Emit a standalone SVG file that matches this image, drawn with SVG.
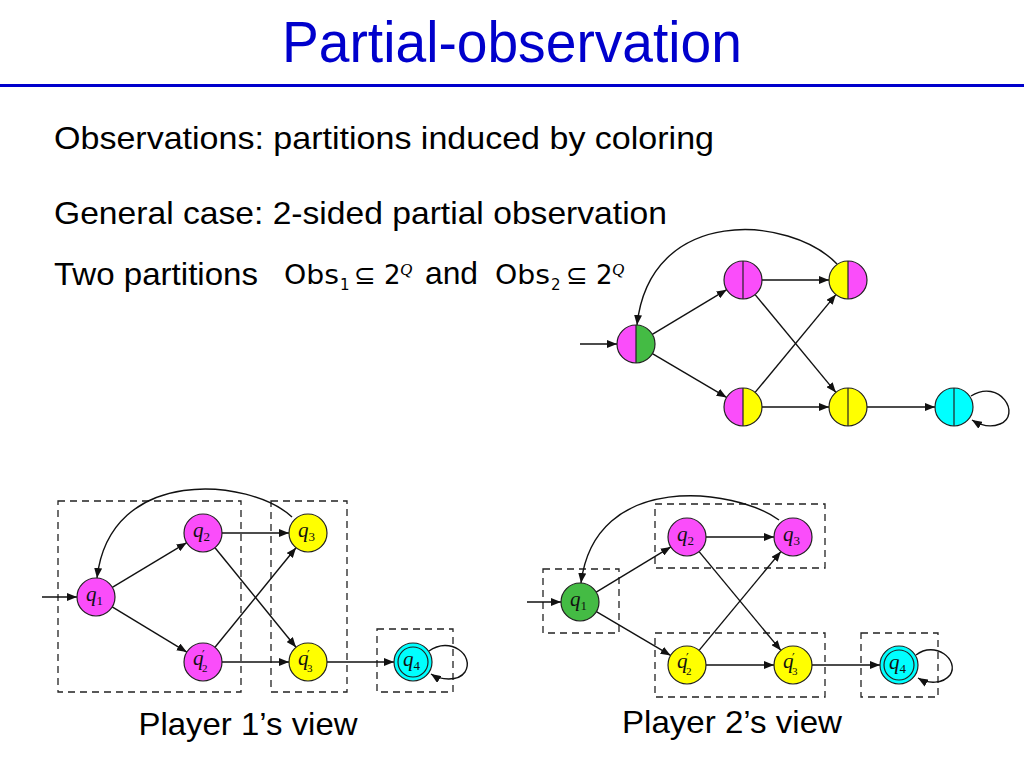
<svg xmlns="http://www.w3.org/2000/svg" width="1024" height="768" viewBox="0 0 1024 768">
<style>
.title{font-family:"Liberation Sans",Arial,sans-serif;font-size:58px;fill:#0000cc}
.body{font-family:"Liberation Sans",Arial,sans-serif;font-size:32px;fill:#000}
.math{font-family:"DejaVu Sans",sans-serif;fill:#000}
.edge{fill:none;stroke:#111;stroke-width:1.4}
.node{stroke:#222;stroke-width:1.2}
.box{fill:none;stroke:#222;stroke-width:1.3;stroke-dasharray:7 5}
.lbl{font-family:"Liberation Serif","DejaVu Serif",serif;font-style:italic;font-size:21px;fill:#111}
.sub{font-style:normal;font-size:13px}
.sb2{font-style:normal;font-size:11px}
.pr{font-style:normal;font-family:"DejaVu Sans",sans-serif;font-size:12px}
.mag{fill:#fa4dfa}.yel{fill:#ffff00}.grn{fill:#44bb44}.cyn{fill:#00ffff}
</style>
<defs>
<marker id="ah" viewBox="0 0 10 8" refX="10" refY="4" markerWidth="10" markerHeight="8" markerUnits="userSpaceOnUse" orient="auto"><path d="M0,0 L10,4 L0,8 z" fill="#111"/></marker>
</defs>

<g id="header">
<text class="title" x="512" y="62" text-anchor="middle" textLength="460" lengthAdjust="spacingAndGlyphs">Partial-observation</text>
<rect x="0" y="84" width="1024" height="3" fill="#0000cc"/>
</g>

<g id="text">
<text class="body" x="54" y="149" textLength="660" lengthAdjust="spacingAndGlyphs">Observations: partitions induced by coloring</text>
<text class="body" x="54" y="224" textLength="613" lengthAdjust="spacingAndGlyphs">General case: 2-sided partial observation</text>
<text class="body" x="54" y="285" textLength="204" lengthAdjust="spacingAndGlyphs">Two partitions</text>
<text class="math" x="284" y="284" style="font-size:26px" textLength="55" lengthAdjust="spacingAndGlyphs">Obs</text>
<text class="math" x="340" y="290" style="font-size:15px">1</text>
<text class="math" x="354" y="284" style="font-size:26px">⊆</text>
<text class="math" x="384" y="284" style="font-size:26px">2</text>
<text class="math" x="400" y="275" style="font-size:17px;font-style:italic;font-family:'Liberation Serif',serif">Q</text>
<text class="body" x="425" y="284" textLength="53" lengthAdjust="spacingAndGlyphs">and</text>
<text class="math" x="495" y="284" style="font-size:26px" textLength="55" lengthAdjust="spacingAndGlyphs">Obs</text>
<text class="math" x="551" y="290" style="font-size:15px">2</text>
<text class="math" x="566" y="284" style="font-size:26px">⊆</text>
<text class="math" x="596" y="284" style="font-size:26px">2</text>
<text class="math" x="612" y="275" style="font-size:17px;font-style:italic;font-family:'Liberation Serif',serif">Q</text>
<text class="body" x="248" y="735" text-anchor="middle" textLength="219" lengthAdjust="spacingAndGlyphs">Player 1’s view</text>
<text class="body" x="732" y="733" text-anchor="middle" textLength="220" lengthAdjust="spacingAndGlyphs">Player 2’s view</text>
</g>

<!-- Top-right graph -->
<g id="top-connectors">
<path class="edge" marker-end="url(#ah)" d="M580,344 L617,344"/>
<path class="edge" marker-end="url(#ah)" d="M652.3,334.3 L726.7,289.7"/>
<path class="edge" marker-end="url(#ah)" d="M652.4,353.6 L726.6,397.4"/>
<path class="edge" marker-end="url(#ah)" d="M762,280 L829,280"/>
<path class="edge" marker-end="url(#ah)" d="M755.1,294.6 L835.9,392.4"/>
<path class="edge" marker-end="url(#ah)" d="M755.1,392.4 L835.9,294.6"/>
<path class="edge" marker-end="url(#ah)" d="M762,407 L829,407"/>
<path class="edge" marker-end="url(#ah)" d="M867,407 L935,407"/>
<path class="edge" marker-end="url(#ah)" d="M837,264 C790,215 650,205 637,325"/>
<path class="edge" marker-end="url(#ah)" d="M971,396 C1000,378 1022,415 1000,424 C990,428 980,425 972,420"/>
</g>
<g id="tA"><path class="mag" d="M636,325 A19,19 0 0 0 636,363 Z"/><path class="grn" d="M636,325 A19,19 0 0 1 636,363 Z"/><circle class="node" cx="636" cy="344" r="19" fill="none"/><line class="node" x1="636" y1="325" x2="636" y2="363"/></g>
<g id="tB"><path class="mag" d="M743,261 A19,19 0 0 0 743,299 Z"/><path class="mag" d="M743,261 A19,19 0 0 1 743,299 Z"/><circle class="node" cx="743" cy="280" r="19" fill="none"/><line class="node" x1="743" y1="261" x2="743" y2="299"/></g>
<g id="tC"><path class="yel" d="M848,261 A19,19 0 0 0 848,299 Z"/><path class="mag" d="M848,261 A19,19 0 0 1 848,299 Z"/><circle class="node" cx="848" cy="280" r="19" fill="none"/><line class="node" x1="848" y1="261" x2="848" y2="299"/></g>
<g id="tD"><path class="mag" d="M743,388 A19,19 0 0 0 743,426 Z"/><path class="yel" d="M743,388 A19,19 0 0 1 743,426 Z"/><circle class="node" cx="743" cy="407" r="19" fill="none"/><line class="node" x1="743" y1="388" x2="743" y2="426"/></g>
<g id="tE"><path class="yel" d="M848,388 A19,19 0 0 0 848,426 Z"/><path class="yel" d="M848,388 A19,19 0 0 1 848,426 Z"/><circle class="node" cx="848" cy="407" r="19" fill="none"/><line class="node" x1="848" y1="388" x2="848" y2="426"/></g>
<g id="tF"><path class="cyn" d="M954,388 A19,19 0 0 0 954,426 Z"/><path class="cyn" d="M954,388 A19,19 0 0 1 954,426 Z"/><circle class="node" cx="954" cy="407" r="19" fill="none"/><line class="node" x1="954" y1="388" x2="954" y2="426"/></g>

<!-- Player 1 view -->
<g id="p1-boxes">
<rect class="box" x="58" y="501" width="183" height="191"/>
<rect class="box" x="271" y="501" width="76" height="191"/>
<rect class="box" x="377" y="629" width="76" height="63"/>
</g>
<g id="p1-connectors">
<path class="edge" marker-end="url(#ah)" d="M42,597 L77,597"/>
<path class="edge" marker-end="url(#ah)" d="M112.3,587.3 L186.7,542.7"/>
<path class="edge" marker-end="url(#ah)" d="M112.2,606.9 L186.8,652.1"/>
<path class="edge" marker-end="url(#ah)" d="M222,533 L289,533"/>
<path class="edge" marker-end="url(#ah)" d="M215,547.7 L296,647.3"/>
<path class="edge" marker-end="url(#ah)" d="M215,647.3 L296,547.7"/>
<path class="edge" marker-end="url(#ah)" d="M222,662 L289,662"/>
<path class="edge" marker-end="url(#ah)" d="M327,662 L394,662"/>
<path class="edge" marker-end="url(#ah)" d="M292,517 C250,478 110,465 97,578"/>
<path class="edge" marker-end="url(#ah)" d="M429,651 C450,636 475,655 465,672 C458,682 440,680 431,674"/>
</g>
<g id="p1-q1"><circle class="node mag" cx="96" cy="597" r="19"/><text class="lbl" x="86" y="601">q<tspan class="sub" dy="4">1</tspan></text></g>
<g id="p1-q2"><circle class="node mag" cx="203" cy="533" r="19"/><text class="lbl" x="193" y="537">q<tspan class="sub" dy="4">2</tspan></text></g>
<g id="p1-q3"><circle class="node yel" cx="308" cy="533" r="19"/><text class="lbl" x="298" y="537">q<tspan class="sub" dy="4">3</tspan></text></g>
<g id="p1-q2p"><circle class="node mag" cx="203" cy="662" r="19"/><text class="lbl" x="193" y="665">q</text><text class="lbl pr" x="202" y="659">′</text><text class="lbl sb2" x="202" y="672">2</text></g>
<g id="p1-q3p"><circle class="node yel" cx="308" cy="662" r="19"/><text class="lbl" x="298" y="665">q</text><text class="lbl pr" x="307" y="659">′</text><text class="lbl sb2" x="307" y="672">3</text></g>
<g id="p1-q4"><circle class="node cyn" cx="413" cy="662" r="19"/><circle class="node" cx="413" cy="662" r="15" fill="none"/><text class="lbl" x="403" y="666">q<tspan class="sub" dy="4">4</tspan></text></g>

<!-- Player 2 view -->
<g id="p2-boxes">
<rect class="box" x="543" y="569" width="76" height="64"/>
<rect class="box" x="655" y="504" width="170" height="64"/>
<rect class="box" x="655" y="633" width="170" height="64"/>
<rect class="box" x="861" y="633" width="77" height="64"/>
</g>
<g id="p2-connectors">
<path class="edge" marker-end="url(#ah)" d="M527,602 L561,602"/>
<path class="edge" marker-end="url(#ah)" d="M596.2,592.1 L670.8,546.9"/>
<path class="edge" marker-end="url(#ah)" d="M596.4,611.6 L670.6,655.4"/>
<path class="edge" marker-end="url(#ah)" d="M706,537 L774,537"/>
<path class="edge" marker-end="url(#ah)" d="M699.1,551.6 L780.9,650.4"/>
<path class="edge" marker-end="url(#ah)" d="M699.1,650.4 L780.9,551.6"/>
<path class="edge" marker-end="url(#ah)" d="M706,665 L774,665"/>
<path class="edge" marker-end="url(#ah)" d="M812,665 L880,665"/>
<path class="edge" marker-end="url(#ah)" d="M779,520 C735,488 595,470 581,583"/>
<path class="edge" marker-end="url(#ah)" d="M916,655 C935,640 960,660 950,675 C943,684 928,684 918,678"/>
</g>
<g id="p2-q1"><circle class="node grn" cx="580" cy="602" r="19"/><text class="lbl" x="570" y="606">q<tspan class="sub" dy="4">1</tspan></text></g>
<g id="p2-q2"><circle class="node mag" cx="687" cy="537" r="19"/><text class="lbl" x="677" y="541">q<tspan class="sub" dy="4">2</tspan></text></g>
<g id="p2-q3"><circle class="node mag" cx="793" cy="537" r="19"/><text class="lbl" x="783" y="541">q<tspan class="sub" dy="4">3</tspan></text></g>
<g id="p2-q2p"><circle class="node yel" cx="687" cy="665" r="19"/><text class="lbl" x="677" y="668">q</text><text class="lbl pr" x="686" y="662">′</text><text class="lbl sb2" x="686" y="675">2</text></g>
<g id="p2-q3p"><circle class="node yel" cx="793" cy="665" r="19"/><text class="lbl" x="783" y="668">q</text><text class="lbl pr" x="792" y="662">′</text><text class="lbl sb2" x="792" y="675">3</text></g>
<g id="p2-q4"><circle class="node cyn" cx="899" cy="665" r="19"/><circle class="node" cx="899" cy="665" r="15" fill="none"/><text class="lbl" x="889" y="669">q<tspan class="sub" dy="4">4</tspan></text></g>
</svg>
